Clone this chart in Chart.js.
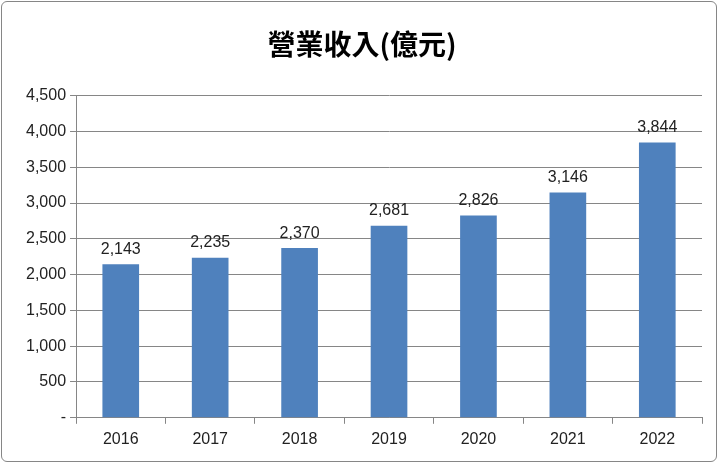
<!DOCTYPE html>
<html>
<head>
<meta charset="utf-8">
<script src="https://cdn.jsdelivr.net/npm/chart.js@4"></script>
<style>
  body { margin: 0; background: #fff; }
  #wrap { position: absolute; left: 1px; top: 1px; width: 716px; height: 461px; border: 1px solid #868686; border-radius: 6px; box-sizing: border-box; }
  canvas { position: absolute; left: 0; top: 0; }
</style>
</head>
<body>
<div id="wrap"></div>
<canvas id="c" width="720" height="465"></canvas>
<script>
var years = ['2016', '2017', '2018', '2019', '2020', '2021', '2022'];
var revenue = [2143, 2235, 2370, 2681, 2826, 3146, 3844];
var yTicks = [0, 500, 1000, 1500, 2000, 2500, 3000, 3500, 4000, 4500];

var valueLabels = {
  id: 'valueLabels',
  afterDatasetsDraw: function(chart) {
    var ctx = chart.ctx;
    var meta = chart.getDatasetMeta(0);
    ctx.save();
    ctx.font = '16px "Liberation Sans", Arial, sans-serif';
    ctx.fillStyle = '#222';
    ctx.textAlign = 'center';
    ctx.textBaseline = 'bottom';
    meta.data.forEach(function(bar, i) {
      ctx.fillText(revenue[i].toLocaleString('en-US'), bar.x, bar.y - 7);
    });
    ctx.restore();
  }
};

new Chart(document.getElementById('c'), {
  type: 'bar',
  data: {
    labels: years,
    datasets: [{
      data: revenue,
      backgroundColor: '#4F81BD',
      barPercentage: 0.41,
      categoryPercentage: 1
    }]
  },
  plugins: [valueLabels],
  options: {
    responsive: false,
    animation: false,
    layout: { padding: { left: 22, right: 18, top: 20, bottom: 10 } },
    plugins: {
      legend: { display: false },
      tooltip: { enabled: false },
      title: {
        display: true,
        text: '營業收入(億元)',
        color: '#000',
        font: { family: '"Noto Sans CJK TC", sans-serif', size: 28, weight: 'bold' },
        padding: { top: 8, bottom: 34 }
      }
    },
    scales: {
      x: {
        grid: { display: true, drawOnChartArea: false, color: '#868686', tickLength: 6, offset: true },
        border: { color: '#868686' },
        ticks: { color: '#222', font: { family: '"Liberation Sans", Arial, sans-serif', size: 16 }, padding: 6 }
      },
      y: {
        min: 0, max: 4500,
        afterBuildTicks: function(axis) { axis.ticks = yTicks.map(function(v) { return { value: v }; }); },
        grid: { color: '#868686', tickLength: 6 },
        border: { color: '#868686' },
        ticks: {
          color: '#222',
          font: { family: '"Liberation Sans", Arial, sans-serif', size: 16 },
          padding: 4,
          callback: function(v) { return v === 0 ? '-' : v.toLocaleString('en-US'); }
        }
      }
    }
  }
});
</script>
</body>
</html>
